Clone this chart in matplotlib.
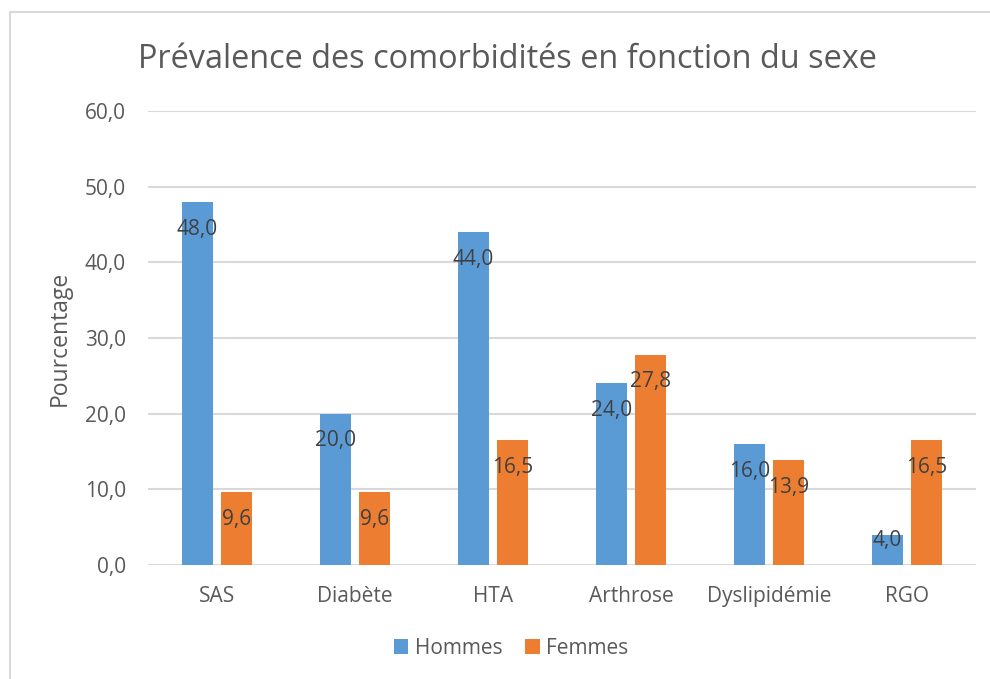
import matplotlib.pyplot as plt
import matplotlib.patches as mpatches
import numpy as np

categories = ['SAS', 'Diabète', 'HTA', 'Arthrose', 'Dyslipidémie', 'RGO']
hommes = [48.0, 20.0, 44.0, 24.0, 16.0, 4.0]
femmes = [9.6, 9.6, 16.5, 27.8, 13.9, 16.5]
yticks = [0, 10, 20, 30, 40, 50, 60]

plt.rcParams['font.family'] = ['Open Sans', 'DejaVu Sans']

fig = plt.figure(figsize=(9.9, 6.79), dpi=100)
ax = fig.add_axes([148 / 990, 1 - 565 / 679, 828 / 990, 454 / 679])

# outer chart border (cropped on right and bottom like the screenshot)
fig.patches.append(mpatches.Rectangle((10 / 990, -0.1), 1.2, 1 - 12 / 679 + 0.1,
                                      transform=fig.transFigure, fill=False,
                                      edgecolor='#d9d9d9', linewidth=1.5))

x = np.arange(len(categories))
w = 0.225
gap = 0.058
b1 = ax.bar(x - (w + gap) / 2, hommes, w, color='#5B9BD5', label='Hommes', zorder=3)
b2 = ax.bar(x + (w + gap) / 2, femmes, w, color='#ED7D31', label='Femmes', zorder=3)

def labels(bars, vals):
    for bar, v in zip(bars, vals):
        cx = bar.get_x() + bar.get_width() / 2
        y = v - 3.6 if v > 8 else v - 0.7
        ax.text(cx, y, f'{v:.1f}'.replace('.', ','), ha='center', va='center',
                fontsize=15, color='#404040', zorder=4)

labels(b1, hommes)
labels(b2, femmes)

ax.set_xlim(-0.5, len(categories) - 0.5)
ax.set_ylim(0, 60)
ax.set_yticks(yticks)
ax.set_yticklabels([f'{t:.1f}'.replace('.', ',') for t in yticks])
ax.set_xticks(x)
ax.set_xticklabels(categories)
ax.tick_params(length=0, labelsize=15, labelcolor='#595959')
ax.tick_params(axis='y', pad=16)
ax.tick_params(axis='x', pad=15)
ax.grid(axis='y', color='#d9d9d9', linewidth=1.5, zorder=0)
for s in ax.spines.values():
    s.set_visible(False)

ax.set_ylabel('Pourcentage', fontsize=16.5, color='#595959', labelpad=9)
fig.text(507 / 990, 1 - 60 / 679, 'Prévalence des comorbidités en fonction du sexe',
         ha='center', va='center', fontsize=23.4, color='#595959')

fig.legend(loc='center', bbox_to_anchor=(511 / 990, 1 - 648 / 679), ncol=2,
           frameon=False, fontsize=15, labelcolor='#595959',
           handlelength=0.7, handleheight=0.7, handletextpad=0.3, columnspacing=1.1)

plt.savefig('out.png')
